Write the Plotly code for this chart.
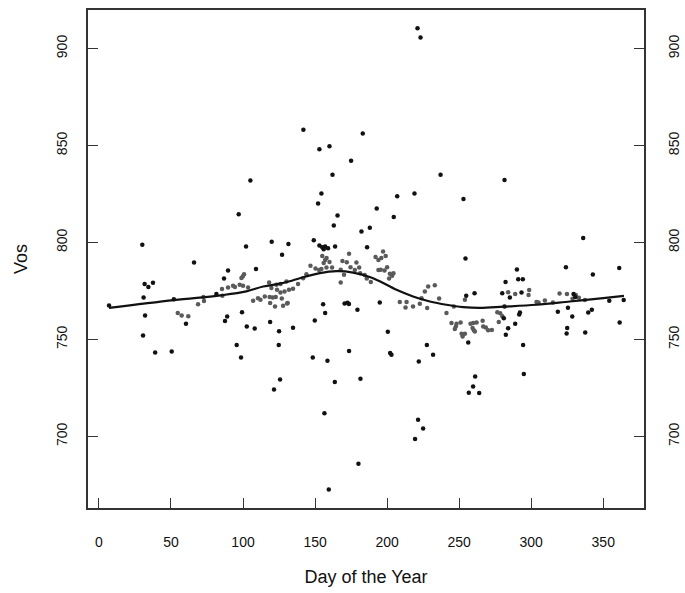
import numpy as np
import plotly.graph_objects as go

# ---- data ----
# darker points (further from the smooth)
black_x = [7, 30.1, 31.7, 34.3, 37.5, 31, 32, 30.6, 39, 50.5, 52, 60.4, 66, 81.5,
           86.8, 89.6, 97, 102.1, 109, 99.3, 89, 87.5, 102.6, 108.1, 95.6, 98.6, 105.1,
           119.9, 131.5, 127.1, 125, 124.8, 118.8, 125.7, 121.5,
           221.1, 223.2, 141.9, 183.1, 153, 160, 175, 162.1, 237.1, 154.4, 207, 219, 253,
           152.1, 165.6, 163, 192.8, 204.6, 182.2, 188, 149.1,
           153, 155, 157, 159, 156, 163.9, 186.1,
           155.6, 157, 170.5, 172.5, 173.5, 179.4, 194.9, 149.8, 134.7, 200.5, 173.6,
           148.4, 158.6, 202.1, 203, 181.5, 163.7, 156.5, 180.1, 159.5,
           227.6, 231.9, 222, 221.5, 225, 219.4,
           254.4, 260.7, 254.9, 256.3, 261.1, 259.7, 256.7, 263.9,
           281.5, 336.1, 324.1, 361.1, 290.1, 342.8, 291, 294.2, 282.2,
           279.9, 285.2, 293.3, 329.4, 330.6, 354.2, 364.2,
           325.5, 318.5, 328.5, 342.1, 339.6, 325, 324.6, 337.5, 361.4,
           281.5, 281, 292.2, 291.7, 288.9, 284, 282.4, 294.4, 294.9]
black_y = [767.5, 798.8, 778.6, 777, 779.2, 771.6, 762.4, 752, 743.3, 743.8, 770.8, 758.1, 789.7, 773.4,
           781.4, 785.6, 814.6, 797.9, 786.3, 764, 761.9, 759.5, 756.7, 755.7, 747.1, 740.7, 832,
           800.4, 799.2, 793.7, 754.3, 747.1, 759, 729.4, 724.2,
           910.5, 905.7, 858.1, 856.2, 848.1, 849.7, 842.1, 834.9, 834.9, 825.3, 823.9, 825.3, 822.5,
           820.1, 813.9, 808.8, 817.5, 813.1, 805.7, 807.6, 801.2,
           798.5, 797.5, 798, 797, 796.5, 797.9, 797.6,
           768.2, 763.6, 768.5, 769, 768.3, 765.3, 769.1, 759.8, 756, 754, 744,
           740.7, 739, 743, 742.1, 729.7, 728.1, 712, 685.9, 672.7,
           747.1, 742.1, 738.7, 708.6, 704.1, 698.7,
           791.8, 773.9, 772.5, 748.5, 730.9, 725.8, 722.5, 722.4,
           832.3, 802.3, 787.3, 786.8, 786.1, 783.5, 781, 781, 779.6,
           773.9, 771.7, 774.2, 773.4, 771.9, 770, 770.3,
           766.3, 764.3, 761.9, 765.3, 763.9, 755.9, 753.1, 753.6, 758.8,
           767, 761, 763.9, 762.9, 758.1, 755.8, 752.4, 747.1, 732.2]

# lighter points (close to the smooth)
gray_x = [54.7, 57.4, 62, 68.8, 72.9, 72.5, 85.7, 85.4, 99.8, 100.7, 98.9,
          89.6, 93.1, 94.4, 97.7, 100, 103.5,
          107, 110.4, 112.1, 115.1, 118.5, 120.6, 122.7, 126.9, 127.8, 122.2, 118.8, 126, 128.8, 131,
          118.1, 119.7, 123.2, 123.6, 126, 130.1,
          130.6, 131.9, 134.7, 138.2, 141.7, 144,
          197.2, 173.6, 155, 157, 156, 158, 160, 192, 194, 196, 199, 169, 172, 178.7,
          146.8, 150.3, 152.8, 154.4, 157.9, 161.8, 167.8, 174.6, 180.6, 177.6, 181.3, 184.5,
          185.9, 188.7, 194, 195.6, 198.2, 200, 201.9, 201.4, 203.5, 204.4, 170.1, 167.8,
          208.8, 212.8, 213.5, 218, 222.7, 227.8, 223.9, 226.2, 228.5, 233.1, 236.1, 241.2,
          254, 246.3,
          244.7, 248.2, 251, 247.7, 247, 251.7, 252.4, 254, 257.9, 259.8, 262.1, 259.3, 260.9,
          266.3, 266.7, 268.5, 270.1, 272.7, 260.2,
          284, 288.9, 298.6, 298.2, 303.7, 305.1, 309.5, 315.1,
          319.7, 324.8, 331, 328.7, 333.1, 337.3,
          276.5, 278.5, 280, 277.5]
gray_y = [763.6, 762.4, 762, 768.2, 769.8, 771.9, 772.5, 776, 782.5, 783.7, 781.7,
          776.8, 777.7, 777, 778.2, 777.7, 776.8,
          770, 771.3, 770.5, 772.2, 771.9, 771.7, 771.9, 771.1, 767.4, 767, 768.8, 774.2, 774.7, 768.8,
          779.4, 776.5, 778.2, 775.6, 778.6, 779.9,
          768.6, 775.6, 776.1, 778.6, 781.6, 783.7,
          795.4, 794.2, 793, 791, 789.5, 792, 790, 792.5, 791, 792, 793, 790.5, 789.8, 789.7,
          788, 786.6, 785.8, 786.4, 787.1, 787.1, 785.9, 787.3, 787.1, 785.8, 784.2, 783.2,
          781.4, 779.6, 785.8, 785.9, 785.6, 787.3, 783.9, 781.5, 782.8, 784.2, 783.4, 779.4,
          769.3, 766.5, 769.3, 767, 768.4, 766.2, 771.3, 774.8, 777.3, 778, 771.1, 763.6,
          770.5, 767,
          758.5, 758.1, 758.8, 756.7, 755.4, 752.9, 751.5, 752.9, 758.1, 758.5, 758.8, 755.9, 754.1,
          759.7, 756.7, 756.2, 754.7, 754.9, 754.7,
          774.4, 773.4, 775.5, 772.9, 769.3, 769.1, 770.1, 769.1,
          773.7, 773.4, 773, 771, 771.5, 770.3,
          764, 763.5, 762, 759]

# smooth curve
smooth_x = [7, 52, 86, 102.3, 114, 125.5, 132.4, 139.4, 153.3, 164.9, 176.4, 188, 194.9,
            206.5, 218, 229.7, 241.2, 252.8, 264.4, 280.6, 303.7, 326.9, 350, 364.4]
smooth_y = [766.3, 770.3, 772.9, 774.8, 777.3, 778.8, 780, 781.6, 784.2, 785.2, 784.5, 782.2, 780,
            775.6, 772.2, 769.6, 767.9, 766.7, 766.3, 766.9, 767.9, 769.6, 771.3, 772.5]

x_ticks = [0, 50, 100, 150, 200, 250, 300, 350]
y_ticks = [700, 750, 800, 850, 900]

XR = [-7.6, 378.3]
YR = [663.1, 919.9]
FONT = "Liberation Sans, Arial, Helvetica, sans-serif"
AX = "#333333"

fig = go.Figure()
fig.add_trace(go.Scatter(x=gray_x, y=gray_y, mode="markers",
                         marker=dict(size=4.5, color="#5a5a5a"), showlegend=False))
fig.add_trace(go.Scatter(x=black_x, y=black_y, mode="markers",
                         marker=dict(size=4.5, color="#111111"), showlegend=False))
fig.add_trace(go.Scatter(x=smooth_x, y=smooth_y, mode="lines", line_shape="spline",
                         line=dict(color="#111111", width=2.2), showlegend=False))
# invisible trace for the right-hand axis
fig.add_trace(go.Scatter(x=smooth_x, y=smooth_y, mode="lines", yaxis="y2",
                         opacity=0, hoverinfo="skip", showlegend=False))

common_y = dict(range=YR, tickvals=y_ticks, ticks="inside", ticklen=10, tickwidth=1.3,
                tickcolor=AX, tickangle=-90, showgrid=False, zeroline=False, automargin=False,
                tickfont=dict(family=FONT, size=14, color="#111"))

fig.update_layout(
    width=685, height=593,
    margin=dict(l=88, r=41, t=10, b=85),
    paper_bgcolor="white", plot_bgcolor="white",
    font=dict(family=FONT, color="#111"),
    xaxis=dict(range=XR, tickvals=x_ticks, ticks="inside", ticklen=10, tickwidth=1.3,
               tickcolor=AX, showgrid=False, zeroline=False, automargin=False,
               showline=True, linecolor=AX, linewidth=1.6, mirror=True,
               ticklabelstandoff=20,
               tickfont=dict(family=FONT, size=14, color="#111"),
               title=dict(text="Day of the Year", font=dict(family=FONT, size=18, color="#111"),
                          standoff=22)),
    yaxis=dict(**common_y, showline=True, linecolor=AX, linewidth=1.6, mirror=True,
               ticklabelstandoff=14,
               title=dict(text="Vos", font=dict(family=FONT, size=18, color="#111"), standoff=21)),
    yaxis2=dict(**common_y, overlaying="y", side="right", showline=False,
                ticklabelstandoff=20),
)

fig.write_html("out.html")
